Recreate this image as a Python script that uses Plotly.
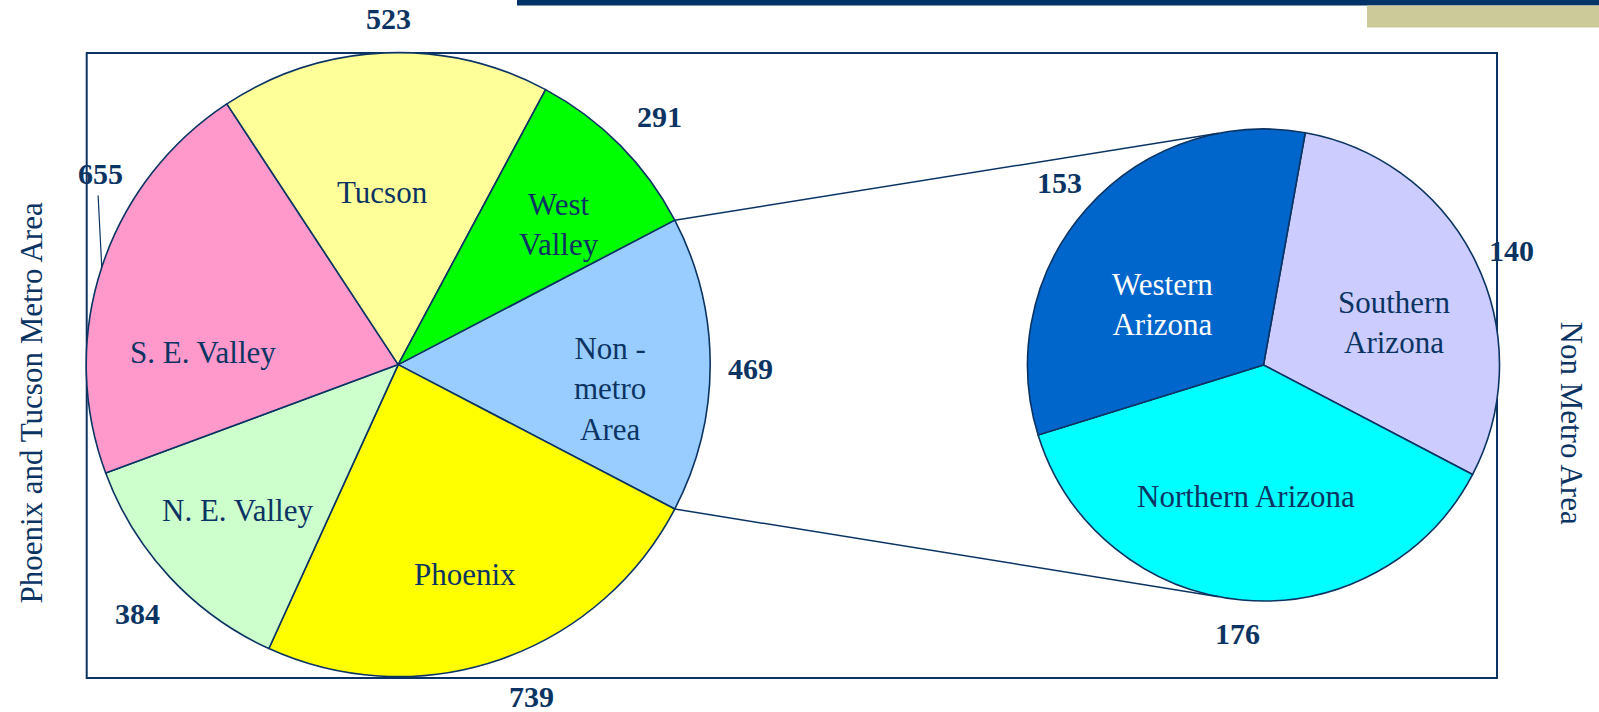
import math
import plotly.graph_objects as go

# ---------------- data ----------------
main_labels = ["Non -<br>metro<br>Area", "Phoenix", "N. E. Valley", "S. E. Valley", "Tucson", "West<br>Valley"]
main_values = [469, 739, 384, 655, 523, 291]
main_colors = ["#99CCFF", "#FFFF00", "#CCFFCC", "#FF99CC", "#FFFF99", "#00FF00"]

sub_labels = ["Southern<br>Arizona", "Northern Arizona", "Western<br>Arizona"]
sub_values = [140, 176, 153]
sub_colors = ["#CCCCFF", "#00FFFF", "#0066CC"]

left_title = "Phoenix and Tucson Metro Area"
right_title = "Non Metro Area"

# ---------------- layout / style ----------------
W, H = 1599, 712
NAVY = "#0B3463"
FONT = "Liberation Serif"

MAIN_C, MAIN_R = (398.2, 364.6), 312.0
SUB_C, SUB_R = (1263.5, 365.0), 236.0
SUB_ROTATION = 10.2

# label placement: (angle nudge from slice middle, radius factor)
main_cat_pos = [(6.6, 0.683), (1.3, 0.705), (0.8, 0.696), (-14.5, 0.627), (-2.7, 0.555), (3.6, 0.685)]
main_val_pos = [(0.6, 1.128), (-3.0, 1.146), (-0.7, 1.154), (14.5, 1.135), (0.9, 1.11), (1.2, 1.154)]
sub_cat_pos = [(7.85, 0.582), (2.35, 0.56), (-10.8, 0.50)]
sub_val_pos = [(1.3, 1.155), (0.3, 1.144), (0.4, 1.161)]
sub_text_colors = [NAVY, NAVY, "white"]


def px(x):
    return x / W


def py(y):
    return 1 - y / H


def polar(c, r, ang):
    a = math.radians(ang)
    return c[0] + r * math.sin(a), c[1] - r * math.cos(a)


def slice_mids(values, rotation):
    tot = sum(values)
    out, start, bounds = [], rotation, [rotation]
    for v in values:
        span = v / tot * 360
        out.append(start + span / 2)
        start += span
        bounds.append(start)
    return out, bounds


def domain(c, r):
    return dict(x=[px(c[0] - r), px(c[0] + r)], y=[py(c[1] + r), py(c[1] - r)])


main_rotation = 90 - main_values[0] / sum(main_values) * 360 / 2
main_mids, main_bounds = slice_mids(main_values, main_rotation)
sub_mids, sub_bounds = slice_mids(sub_values, SUB_ROTATION)

fig = go.Figure()
fig.add_trace(go.Pie(
    labels=main_labels, values=main_values, sort=False, direction="clockwise",
    rotation=main_rotation, textinfo="none", domain=domain(MAIN_C, MAIN_R),
    marker=dict(colors=main_colors, line=dict(color=NAVY, width=1.6)),
    showlegend=False, hoverinfo="label+value",
))
fig.add_trace(go.Pie(
    labels=sub_labels, values=sub_values, sort=False, direction="clockwise",
    rotation=SUB_ROTATION, textinfo="none", domain=domain(SUB_C, SUB_R),
    marker=dict(colors=sub_colors, line=dict(color=NAVY, width=1.6)),
    showlegend=False, hoverinfo="label+value",
))

ann = []


def add_text(x, y, text, size=31, bold=False, color=NAVY, angle=0):
    if bold:
        text = "<b>" + text + "</b>"
    ann.append(dict(x=px(x), y=py(y), xref="paper", yref="paper", text=text,
                    showarrow=False, xanchor="center", yanchor="middle", textangle=angle,
                    font=dict(family=FONT, size=size, color=color)))


for lab, val, mid, (da, rf), (dva, vrf) in zip(main_labels, main_values, main_mids, main_cat_pos, main_val_pos):
    x, y = polar(MAIN_C, MAIN_R * rf, mid + da)
    add_text(x, y, lab)
    x, y = polar(MAIN_C, MAIN_R * vrf, mid + dva)
    add_text(x, y, str(val), size=30, bold=True)

for lab, val, mid, (da, rf), (dva, vrf), tc in zip(sub_labels, sub_values, sub_mids, sub_cat_pos, sub_val_pos, sub_text_colors):
    x, y = polar(SUB_C, SUB_R * rf, mid + da)
    add_text(x, y, lab, color=tc)
    x, y = polar(SUB_C, SUB_R * vrf, mid + dva)
    add_text(x, y, str(val), size=30, bold=True)

add_text(30.6, 403, left_title, angle=-90)
add_text(1571.5, 423, right_title, angle=90)

shapes = []
# frame
shapes.append(dict(type="rect", xref="paper", yref="paper", x0=px(86.7), x1=px(1497), y0=py(678), y1=py(53),
                   line=dict(color=NAVY, width=2), layer="below"))
# header decorations
shapes.append(dict(type="rect", xref="paper", yref="paper", x0=px(517), x1=1, y0=py(5.5), y1=1,
                   line=dict(width=0), fillcolor="#003366"))
shapes.append(dict(type="rect", xref="paper", yref="paper", x0=px(1367), x1=1, y0=py(27.5), y1=py(5.5),
                   line=dict(width=0), fillcolor="#CCCA99"))
# connector lines: main slice boundaries of first slice -> secondary pie
p_top = polar(MAIN_C, MAIN_R, main_bounds[0])
p_bot = polar(MAIN_C, MAIN_R, main_bounds[1])
q_top = polar(SUB_C, SUB_R, 349.0)
q_bot = polar(SUB_C, SUB_R, 191.0)
for a, b in [(p_top, q_top), (p_bot, q_bot)]:
    shapes.append(dict(type="line", xref="paper", yref="paper", x0=px(a[0]), y0=py(a[1]),
                       x1=px(b[0]), y1=py(b[1]), line=dict(color=NAVY, width=1.5)))
# leader for S. E. Valley value
se = 3
lx, ly = polar(MAIN_C, MAIN_R * main_val_pos[se][1], main_mids[se] + main_val_pos[se][0])
ex, ey = polar(MAIN_C, MAIN_R, main_mids[se])
shapes.append(dict(type="line", xref="paper", yref="paper", x0=px(lx - 2), y0=py(ly + 22),
                   x1=px(ex), y1=py(ey), line=dict(color=NAVY, width=1.2)))

fig.update_layout(
    width=W, height=H, margin=dict(l=0, r=0, t=0, b=0),
    paper_bgcolor="white", plot_bgcolor="white",
    annotations=ann, shapes=shapes,
)
fig.write_html("out.html")
